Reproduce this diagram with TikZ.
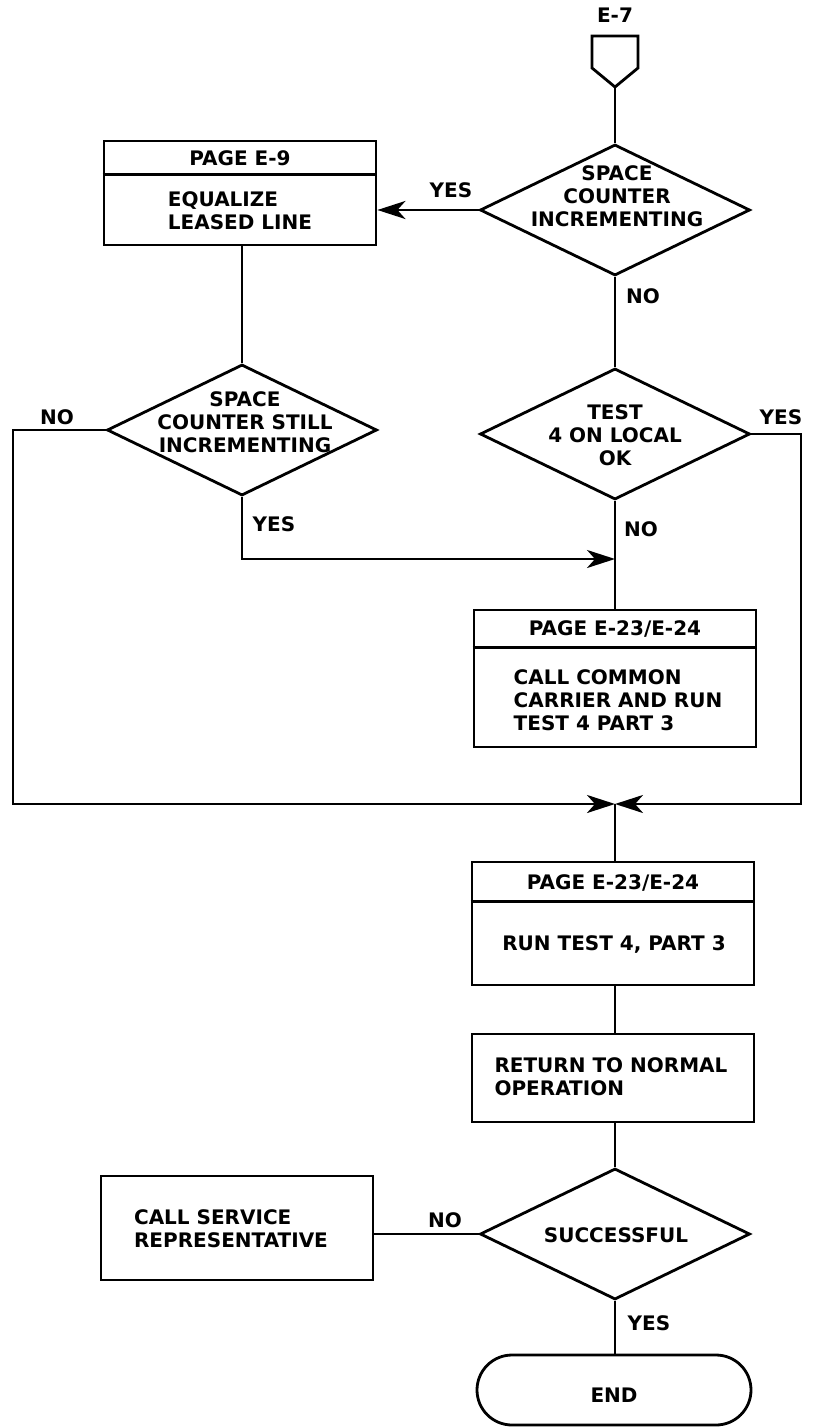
\documentclass[tikz,border=0pt]{standalone}
\usepackage{fontspec}
\setmainfont{DejaVu Sans}
\usetikzlibrary{shapes.geometric,shapes.misc,arrows.meta}
\begin{document}
\begin{tikzpicture}[x=0.5pt,y=-0.5pt,
  every node/.style={font=\fontsize{10}{11.5}\selectfont\bfseries, inner sep=0pt},
  ln/.style={line width=1.4pt},
  arr/.style={line width=1.4pt,-{Stealth[length=14pt,width=9pt,inset=4pt]}},
  dia/.style={diamond,draw,line width=1.4pt,minimum width=135pt,minimum height=65.5pt,inner sep=0pt},
  box/.style={rectangle,draw,line width=1.4pt,inner sep=0pt},
  term/.style={rounded rectangle,draw,line width=1.4pt,inner sep=0pt},
  ctxt/.style={align=center},
  ltxt/.style={align=left}]
\useasboundingbox (0,0) rectangle (817,1428);

% off-page connector
\node (e7) at (615,15) {E-7};
\draw[ln] (592,36) -- (638,36) -- (638,68) -- (615,87) -- (592,68) -- cycle;
\coordinate (oc) at (615,87);

% decisions
\node[dia] (d1) at (615,210) {};
\node[ctxt] (d1t) at (617,196) {SPACE\\COUNTER\\INCREMENTING};
\node[dia] (d2) at (242,430) {};
\node[ctxt] (d2t) at (245,422) {SPACE\\COUNTER STILL\\INCREMENTING};
\node[dia] (d3) at (615,434) {};
\node[ctxt] (d3t) at (615,435) {TEST\\4 ON LOCAL\\OK};
\node[dia] (d4) at (615,1234) {};
\node (d4t) at (616,1235) {SUCCESSFUL};

% boxes
\node[box,minimum width=136pt,minimum height=52pt] (b1) at (240,193) {};
\draw[ln] ([yshift=-17.5pt]b1.north west) -- ([yshift=-17.5pt]b1.north east);
\node (b1h) at (240,158.5) {PAGE E-9};
\node[ltxt] (b1t) at (240,211) {EQUALIZE\\LEASED LINE};

\node[box,minimum width=141pt,minimum height=68.5pt] (b2) at (615,678.5) {};
\draw[ln] ([yshift=-19.5pt]b2.north west) -- ([yshift=-19.5pt]b2.north east);
\node (b2h) at (615,629.5) {PAGE E-23/E-24};
\node[ltxt] (b2t) at (618,700) {CALL COMMON\\CARRIER AND RUN\\TEST 4 PART 3};

\node[box,minimum width=141pt,minimum height=61.5pt] (b3) at (613,923.5) {};
\draw[ln] ([yshift=-20.5pt]b3.north west) -- ([yshift=-20.5pt]b3.north east);
\node (b3h) at (613,882.5) {PAGE E-23/E-24};
\node (b3t) at (614,944) {RUN TEST 4, PART 3};

\node[box,minimum width=141pt,minimum height=44pt] (b4) at (613,1078) {};
\node[ltxt] (b4t) at (611,1077) {RETURN TO NORMAL\\OPERATION};

\node[box,minimum width=136pt,minimum height=52pt] (b5) at (237,1228) {};
\node[ltxt] (b5t) at (231,1229) {CALL SERVICE\\REPRESENTATIVE};

\node[term,minimum width=137pt,minimum height=35pt] (endn) at (614,1390) {};
\node (endt) at (614,1395) {END};

% labels
\node (l1) at (451,190) {YES};
\node (l2) at (643,296) {NO};
\node (l3) at (57,417) {NO};
\node (l4) at (274,524) {YES};
\node (l5) at (641,529) {NO};
\node (l6) at (781,417) {YES};
\node (l7) at (445,1220) {NO};
\node (l8) at (649,1323) {YES};

% helper coordinates
\coordinate (j1) at (615,559);
\coordinate (m) at (615,804);
\coordinate (lc) at (13,804);
\coordinate (rc) at (801,804);

% connectors
\draw[ln] (oc) -- (d1.north);
\draw[arr] (d1.west) -- (d1.west -| b1.east);
\draw[ln] (d2.north |- b1.south) -- (d2.north);
\draw[ln] (d1.south) -- (d3.north);
\draw[ln] (d3.south) -- (b2.north -| d3.south);
\draw[arr] (d2.south) |- (j1);
\draw[arr] (d2.west) -| (lc) -- (m);
\draw[arr] (d3.east) -| (rc) -- (m);
\draw[ln] (m) -- (m |- b3.north);
\draw[ln] (m |- b3.south) -- (m |- b4.north);
\draw[ln] (m |- b4.south) -- (d4.north);
\draw[ln] (d4.west) -- (d4.west -| b5.east);
\draw[ln] (d4.south) -- (d4.south |- endn.north);
\end{tikzpicture}
\end{document}
